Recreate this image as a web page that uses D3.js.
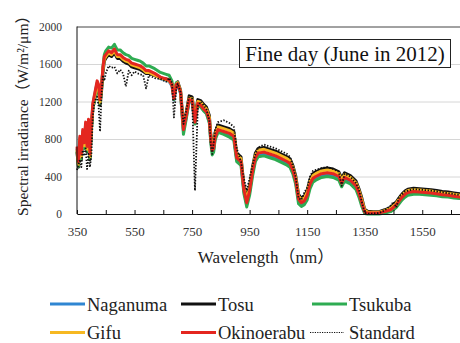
<!DOCTYPE html>
<html>
<head>
<meta charset="utf-8">
<script src="https://cdn.jsdelivr.net/npm/d3@7"></script>
<style>
  body { margin: 0; background: #fff; }
  svg text { font-family: "Liberation Serif", "Noto Sans CJK JP", serif; }
</style>
</head>
<body>
<div id="chartArea"></div>
<script>
// wavelength grid (nm)
var wavelengths = [350,355,360,365,370,375,380,385,390,395,
  400,405,410,415,420,425,430,435,440,445,
  450,460,470,480,490,500,510,520,530,540,
  550,560,570,580,590,600,620,640,660,670,
  680,687,695,700,710,720,730,740,750,760,
  765,770,780,790,800,810,815,820,825,830,
  840,860,880,895,905,920,930,940,950,960,
  970,980,1000,1020,1040,1060,1080,1090,1100,1110,
  1120,1130,1140,1150,1160,1170,1180,1200,1220,1240,
  1260,1270,1280,1300,1320,1330,1340,1350,1360,1380,
  1400,1420,1440,1450,1460,1470,1480,1490,1500,1520,
  1540,1560,1580,1600,1620,1640,1660,1680,1700];

var naganuma = [700,545,810,625,880,745,960,705,990,625,
  945,1165,1245,1325,1400,1365,1205,1345,1545,1665,
  1685,1725,1705,1745,1685,1685,1655,1635,1625,1595,
  1585,1575,1565,1545,1515,1515,1485,1445,1425,1415,
  1365,1215,1365,1375,1285,885,1035,1205,1195,965,
  1085,1165,1145,1105,1075,985,785,665,685,805,
  885,865,845,815,585,545,245,105,235,435,
  585,635,645,625,605,575,545,525,455,345,
  145,105,125,185,305,365,385,415,425,415,
  385,315,375,345,285,205,105,10,5,5,
  5,15,35,60,90,130,170,200,220,230,
  225,220,215,205,195,190,180,170,165];

var tosu = [660,500,770,580,840,700,920,660,950,580,
  900,1120,1200,1280,1360,1320,1160,1300,1500,1630,
  1660,1700,1680,1720,1660,1660,1630,1610,1600,1570,
  1560,1550,1540,1520,1500,1500,1480,1450,1440,1430,
  1390,1260,1390,1410,1320,940,1090,1260,1250,1020,
  1140,1220,1210,1170,1140,1050,850,730,750,870,
  950,930,910,880,650,610,310,170,300,500,
  650,700,710,690,670,640,610,590,520,410,
  210,170,190,250,370,430,450,480,490,480,
  450,380,440,410,350,270,170,50,30,25,
  25,45,70,100,130,175,215,245,265,275,
  270,265,260,250,240,235,225,215,210];

var tsukuba = [670,510,770,590,840,700,920,670,950,590,
  900,1120,1200,1290,1370,1340,1180,1320,1560,1700,
  1740,1780,1770,1810,1750,1750,1720,1700,1690,1660,
  1650,1640,1630,1610,1580,1580,1550,1510,1490,1480,
  1420,1220,1400,1400,1290,850,1020,1210,1200,960,
  1080,1160,1140,1100,1070,970,760,630,660,790,
  870,850,820,790,560,520,220,75,200,400,
  560,610,620,600,580,550,520,500,430,320,
  110,80,100,150,270,340,360,390,400,390,
  360,290,350,320,260,180,80,5,0,0,
  0,10,25,45,70,110,150,180,200,210,
  210,205,200,195,185,180,170,165,160];

var gifu = [690,530,800,610,870,730,950,690,980,610,
  930,1150,1230,1310,1390,1350,1190,1330,1540,1650,
  1680,1720,1700,1740,1680,1680,1650,1630,1620,1590,
  1580,1570,1560,1540,1510,1510,1480,1450,1430,1420,
  1380,1240,1380,1400,1310,920,1070,1240,1230,1000,
  1120,1200,1190,1150,1120,1030,830,710,730,850,
  930,910,890,860,630,590,290,150,280,480,
  630,680,690,670,650,620,590,570,500,390,
  190,150,170,230,350,410,430,460,470,460,
  430,360,420,390,330,250,150,40,20,20,
  20,35,60,85,115,160,200,230,250,260,
  255,250,245,235,225,220,210,200,195];

var okinoerabu = [720,560,830,640,900,760,980,720,1010,640,
  960,1180,1260,1340,1420,1380,1220,1360,1560,1680,
  1700,1740,1720,1760,1700,1700,1670,1650,1640,1610,
  1600,1590,1580,1560,1530,1530,1500,1460,1440,1430,
  1380,1230,1380,1390,1300,900,1050,1220,1210,980,
  1100,1180,1160,1120,1090,1000,800,680,700,820,
  900,880,860,830,600,560,260,120,250,450,
  600,650,660,640,620,590,560,540,470,360,
  160,120,140,200,320,380,400,430,440,430,
  400,330,390,360,300,220,120,20,10,10,
  12,25,45,70,100,140,180,210,230,240,
  235,230,225,215,205,200,190,180,175];

var standard = [470,520,580,500,680,620,700,480,640,500,
  640,1050,1180,1220,1250,1150,880,1250,1480,1420,
  1500,1580,1560,1570,1500,1540,1500,1360,1530,1480,
  1520,1500,1490,1480,1340,1480,1450,1440,1410,1450,
  1400,1030,1340,1390,1300,960,1110,1260,1250,250,
  700,1150,1200,1160,1120,1000,740,640,760,900,
  980,1000,970,930,700,560,380,250,380,520,
  640,710,740,720,700,670,640,610,520,400,
  170,150,230,280,400,460,470,490,500,480,
  450,300,430,400,330,260,130,10,5,5,
  10,40,90,130,70,190,210,240,250,265,
  260,255,250,240,230,222,212,202,195];

var xLabelTicks = [350, 550, 750, 950, 1150, 1350, 1550];
var xMarkTicks = [350, 450, 550, 650, 750, 850, 950, 1050, 1150, 1250, 1350, 1450, 1550, 1650];
var yTicks = [0, 400, 800, 1200, 1600, 2000];

var serif = "'Liberation Serif', 'Noto Sans CJK JP', serif";

var colors = {
  "Naganuma": "#2f86d2",
  "Tosu": "#111111",
  "Tsukuba": "#2eac52",
  "Gifu": "#f6b822",
  "Okinoerabu": "#e4261f",
  "Standard": "#111111"
};

var series = [
  { name: "Naganuma", values: naganuma },
  { name: "Tosu", values: tosu },
  { name: "Tsukuba", values: tsukuba },
  { name: "Gifu", values: gifu },
  { name: "Okinoerabu", values: okinoerabu },
  { name: "Standard", values: standard }
];

var margin = { top: 26.5, left: 77 },
  width = 388.4,
  height = 187.5;

var svg = d3.select("#chartArea").append("svg")
  .attr("width", 460)
  .attr("height", 343)
  .style("display", "block");

svg.append("rect").attr("width", 460).attr("height", 343).attr("fill", "#fff");

var g = svg.append("g")
  .attr("transform", "translate(" + margin.left + "," + margin.top + ")");

var x = d3.scaleLinear().domain([350, 1700]).range([0, width]);
var y = d3.scaleLinear().domain([0, 2000]).range([height, 0]);

// gridlines
var grid = g.append("g")
  .call(d3.axisLeft(y).tickValues(yTicks).tickSize(-width).tickFormat(""));
grid.select(".domain").remove();
grid.selectAll(".tick line")
  .attr("stroke", function (d) { return d == 2000 ? "#444" : "#d6d6d6"; })
  .attr("stroke-width", 1);

// y tick labels
var yAxis = g.append("g")
  .call(d3.axisLeft(y).tickValues(yTicks).tickSize(0).tickPadding(15).tickFormat(d3.format("d")));
yAxis.select(".domain").remove();
yAxis.selectAll("text")
  .style("font-family", serif)
  .style("font-size", "11.5px")
  .attr("fill", "#333");

// lines
var line = d3.line()
  .x(function (d, i) { return x(wavelengths[i]); })
  .y(function (d) { return y(d); });

g.selectAll(".series")
  .data(series)
  .enter().append("path")
  .attr("class", "series")
  .attr("d", function (d) { return line(d.values); })
  .attr("fill", "none")
  .attr("stroke", function (d) { return colors[d.name]; })
  .attr("stroke-width", function (d) { return d.name == "Standard" ? 1.8 : 3; })
  .attr("stroke-dasharray", function (d) { return d.name == "Standard" ? "1.4,1.6" : null; })
  .attr("stroke-linejoin", "round");

// x axis: tick marks every 100 nm, pointing inward
var xTickAxis = g.append("g")
  .attr("transform", "translate(0," + height + ")")
  .call(d3.axisBottom(x).tickValues(xMarkTicks).tickSizeInner(-4).tickSizeOuter(0).tickFormat(""));
xTickAxis.select(".domain").attr("stroke", "#111");
xTickAxis.selectAll(".tick line").attr("stroke", "#111");

var xLabelAxis = g.append("g")
  .attr("transform", "translate(0," + height + ")")
  .call(d3.axisBottom(x).tickValues(xLabelTicks).tickSize(0).tickPadding(13).tickFormat(d3.format("d")));
xLabelAxis.select(".domain").remove();
xLabelAxis.selectAll("text")
  .style("font-family", serif)
  .style("font-size", "13px")
  .attr("fill", "#333");

// left axis line
g.append("line")
  .attr("x1", 0).attr("x2", 0)
  .attr("y1", 0).attr("y2", height)
  .attr("stroke", "#111");

// axis titles
svg.append("text")
  .attr("transform", "translate(28,112) rotate(-90)")
  .attr("text-anchor", "middle")
  .style("font-family", serif)
  .style("font-size", "15.5px")
  .attr("fill", "#222")
  .text("Spectral irradiance（W/m²/μm）");

svg.append("text")
  .attr("x", 266)
  .attr("y", 263)
  .attr("text-anchor", "middle")
  .style("font-family", serif)
  .style("font-size", "17px")
  .attr("fill", "#222")
  .text("Wavelength（nm）");

// title box
svg.append("rect")
  .attr("x", 239.5).attr("y", 39.5)
  .attr("width", 211).attr("height", 28)
  .attr("fill", "#fff")
  .attr("stroke", "#222");

svg.append("text")
  .attr("x", 345)
  .attr("y", 60.5)
  .attr("text-anchor", "middle")
  .style("font-family", serif)
  .style("font-size", "21px")
  .attr("fill", "#111")
  .text("Fine day (June in 2012)");

// legend
var legendPos = [
  { x: 50, y: 304 }, { x: 181, y: 304 }, { x: 312, y: 304 },
  { x: 50, y: 332.5 }, { x: 181, y: 332.5 }, { x: 312, y: 332.5 }
];
var legendOrder = ["Naganuma", "Tosu", "Tsukuba", "Gifu", "Okinoerabu", "Standard"];

var legend = svg.selectAll(".legend")
  .data(legendOrder)
  .enter().append("g")
  .attr("class", "legend")
  .attr("transform", function (d, i) { return "translate(" + legendPos[i].x + "," + legendPos[i].y + ")"; });

legend.append("line")
  .attr("x1", function (d) { return d == "Standard" ? -2 : 0; })
  .attr("x2", function (d) { return d == "Standard" ? 32 : 35; })
  .attr("stroke", function (d) { return colors[d]; })
  .attr("stroke-width", function (d) { return d == "Standard" ? 1.2 : 3; })
  .attr("stroke-dasharray", function (d) { return d == "Standard" ? "1.2,1.2" : null; });

legend.append("text")
  .attr("x", 37)
  .attr("y", 6.5)
  .style("font-family", serif)
  .style("font-size", "18.5px")
  .attr("fill", "#222")
  .text(function (d) { return d; });
</script>
</body>
</html>
